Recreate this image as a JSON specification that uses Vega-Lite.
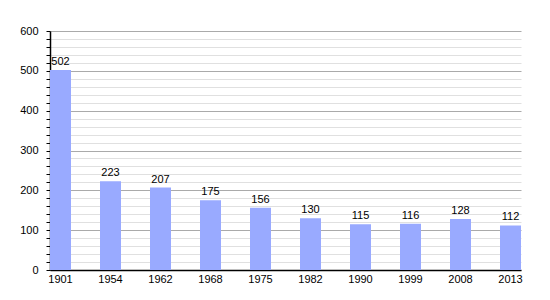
{
  "$schema": "https://vega.github.io/schema/vega-lite/v6.json",
  "autosize": "none",
  "width": 471,
  "height": 239,
  "padding": {"left": 50, "top": 31, "right": 29, "bottom": 30},
  "background": "white",
  "config": {"view": {"stroke": null}, "font": "Liberation Sans"},
  "data": {"values": [
    {"year": "1901", "pop": 502},
    {"year": "1954", "pop": 223},
    {"year": "1962", "pop": 207},
    {"year": "1968", "pop": 175},
    {"year": "1975", "pop": 156},
    {"year": "1982", "pop": 130},
    {"year": "1990", "pop": 115},
    {"year": "1999", "pop": 116},
    {"year": "2008", "pop": 128},
    {"year": "2013", "pop": 112}
  ]},
  "encoding": {
    "x": {"field": "year", "type": "ordinal", "sort": null,
      "scale": {"paddingInner": 0.58, "paddingOuter": 0},
      "axis": {"title": null, "labelAngle": 0, "ticks": false, "domainColor": "black", "domainWidth": 1.5, "labelFontSize": 11, "labelColor": "black", "labelPadding": 3, "grid": false}},
    "y": {"field": "pop", "type": "quantitative",
      "scale": {"domain": [0, 600], "nice": false},
      "axis": {"title": null, "values": [0,20,40,60,80,100,120,140,160,180,200,220,240,260,280,300,320,340,360,380,400,420,440,460,480,500,520,540,560,580,600],
        "labelExpr": "datum.value % 100 === 0 ? datum.label : ''",
        "gridColor": {"condition": {"test": "datum.value % 100 === 0", "value": "#aaaaaa"}, "value": "#e0e0e0"},
        "domainColor": "black", "domainWidth": 1.5, "tickColor": "black", "tickSize": 4,
        "labelFontSize": 11, "labelColor": "black", "labelPadding": 8}}
  },
  "layer": [
    {"mark": {"type": "bar", "color": "#99aaff"}},
    {"mark": {"type": "text", "baseline": "bottom", "dy": -3, "fontSize": 11, "color": "black"},
     "encoding": {"text": {"field": "pop"}}}
  ]
}
